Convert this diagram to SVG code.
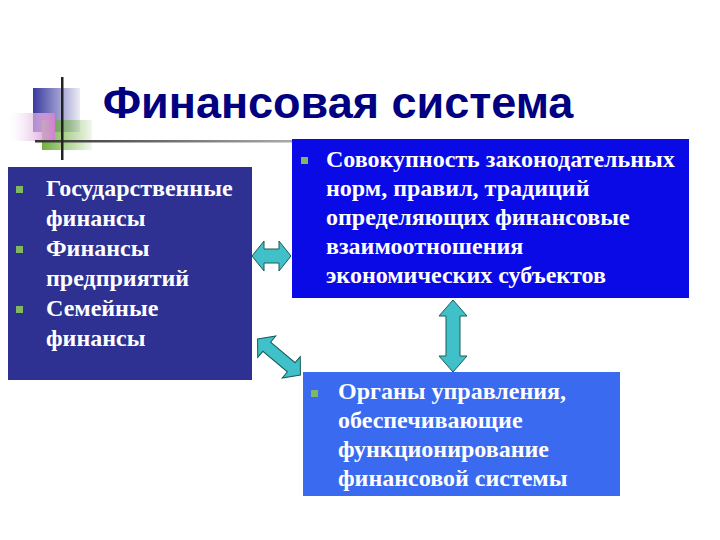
<svg xmlns="http://www.w3.org/2000/svg" width="720" height="540" viewBox="0 0 720 540">
<defs>
<style>
.t{font-family:"Liberation Serif",serif;font-weight:bold;font-size:24px;fill:#fff}
.b{fill:#7FB860}
.arr{fill:#40C0C8;stroke:#1a5a5a;stroke-width:1}
</style>
<linearGradient id="gb" x1="0" x2="1"><stop offset="0" stop-color="#3a3aa0"/><stop offset="1" stop-color="#3a3aa0" stop-opacity="0.1"/></linearGradient>
<linearGradient id="gp" x1="0" x2="1"><stop offset="0" stop-color="#fff" stop-opacity="0.3"/><stop offset="1" stop-color="#d080d0"/></linearGradient>
<linearGradient id="gg" x1="0" x2="1"><stop offset="0" stop-color="#70b040"/><stop offset="1" stop-color="#70b040" stop-opacity="0.1"/></linearGradient>
<linearGradient id="gl" x1="0" x2="1"><stop offset="0" stop-color="#333"/><stop offset="1" stop-color="#aaa"/></linearGradient>
</defs>
<rect width="720" height="540" fill="#fff"/>
<g id="decor">
<rect x="33" y="88" width="47" height="44" fill="url(#gb)"/>
<rect x="42" y="120" width="50" height="30" fill="url(#gg)"/>
<rect x="10" y="113" width="45" height="28" fill="url(#gp)"/>
<rect x="35" y="140" width="258" height="2.5" fill="url(#gl)"/>
<rect x="61" y="77" width="2.5" height="83" fill="#222"/>
</g>
<text id="title" x="338" y="118" text-anchor="middle" font-family="'Liberation Sans',sans-serif" font-weight="bold" font-size="45" fill="#000080">Финансовая система</text>
<g id="left">
<rect x="8" y="167" width="244" height="213" fill="#2E3192"/>
<rect class="b" x="16" y="186" width="7" height="7"/>
<rect class="b" x="16" y="246" width="7" height="7"/>
<rect class="b" x="16" y="306" width="7" height="7"/>
<text class="t" x="46" y="196">Государственные</text>
<text class="t" x="46" y="226">финансы</text>
<text class="t" x="46" y="256">Финансы</text>
<text class="t" x="46" y="286">предприятий</text>
<text class="t" x="46" y="316">Семейные</text>
<text class="t" x="46" y="346">финансы</text>
</g>
<g id="top">
<rect x="292" y="139" width="397" height="159" fill="#0A0AE6"/>
<rect class="b" x="301" y="157" width="7" height="7"/>
<text class="t" x="326" y="167">Совокупность законодательных</text>
<text class="t" x="326" y="196">норм, правил, традиций</text>
<text class="t" x="326" y="225">определяющих финансовые</text>
<text class="t" x="326" y="254">взаимоотношения</text>
<text class="t" x="326" y="283">экономических субъектов</text>
</g>
<g id="bottom">
<rect x="303" y="372" width="317" height="124" fill="#3A6AF0"/>
<rect class="b" x="311" y="390" width="7" height="7"/>
<text class="t" x="338" y="399">Органы управления,</text>
<text class="t" x="338" y="428">обеспечивающие</text>
<text class="t" x="338" y="457">функционирование</text>
<text class="t" x="338" y="486">финансовой системы</text>
</g>
<g id="connectors">
<polygon class="arr" points="252,256 264,241 264,249 279,249 279,241 291,256 279,271 279,263 264,263 264,271"/>
<polygon class="arr" points="440,300 454,316 447,316 447,356 454,356 440,372 426,356 433,356 433,316 426,316" transform="translate(13,0)"/>
<polygon class="arr" transform="translate(279,357) rotate(40)" points="-28,0 -16,-14 -16,-6 16,-6 16,-14 28,0 16,14 16,6 -16,6 -16,14"/>
</g>
</svg>
